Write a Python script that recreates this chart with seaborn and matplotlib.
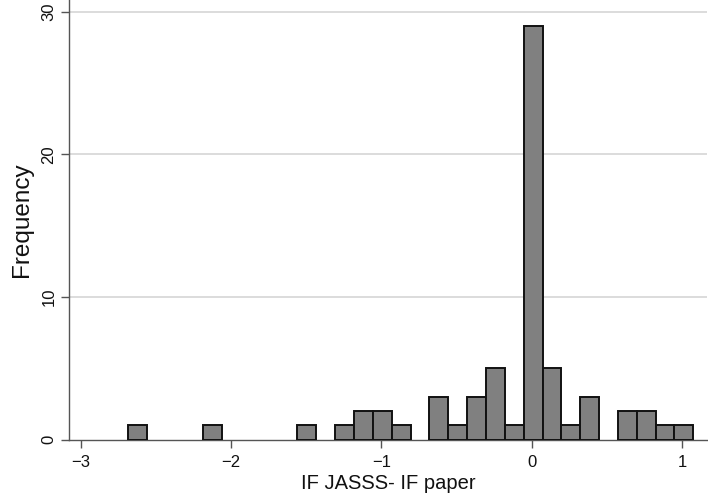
import numpy as np
import pandas as pd
import matplotlib
matplotlib.use("Agg")
import matplotlib.pyplot as plt
import seaborn as sns

# Histogram data (30 bins)
bin_start = -2.689
bin_width = 0.1255
counts = [1, 0, 0, 0, 1, 0, 0, 0, 0, 1,
          0, 1, 2, 2, 1, 0, 3, 1, 3, 5,
          1, 29, 5, 1, 3, 0, 2, 2, 1, 1]
x_ticks = [-3, -2, -1, 0, 1]
y_ticks = [0, 10, 20, 30]
x_label = "IF JASSS- IF paper"
y_label = "Frequency"

n = len(counts)
edges = bin_start + bin_width * np.arange(n + 1)
centers = (edges[:-1] + edges[1:]) / 2
df = pd.DataFrame({"value": centers, "count": counts})

sns.set_theme(style="white")
plt.rcParams["font.family"] = ["Liberation Sans", "DejaVu Sans"]
plt.rcParams["axes.unicode_minus"] = True

fig = plt.figure(figsize=(7.08, 5.03), dpi=100)
ax = fig.add_axes([69 / 708, 1 - 439.5 / 503, (707 - 69) / 708, 439.5 / 503])

sns.histplot(data=df, x="value", weights="count", bins=edges.tolist(), ax=ax,
             color="#808080", edgecolor="#111111", linewidth=1.4, alpha=1.0,
             zorder=3)
# hide empty bins (Stata draws nothing there)
for p in ax.patches:
    if p.get_height() == 0:
        p.set_visible(False)

ax.set_xlim(-3.08, 1.167)
ax.set_ylim(0, 30.82)
ax.set_xticks(x_ticks)
ax.set_yticks(y_ticks)
for lab in ax.get_yticklabels():
    lab.set_rotation(90)
    lab.set_va("center")

for y in y_ticks[1:]:
    ax.axhline(y, color="#dcdcdc", linewidth=1.4, zorder=1)

ax.set_xlabel(x_label, fontsize=14.5, labelpad=3)
ax.set_ylabel(y_label, fontsize=17.5, labelpad=6)

for side in ["top", "right"]:
    ax.spines[side].set_visible(False)
for side in ["left", "bottom"]:
    ax.spines[side].set_color("#555555")
    ax.spines[side].set_linewidth(1.0)

ax.tick_params(axis="both", which="major", direction="out", length=6, width=1,
               color="#555555", bottom=True, left=True, labelsize=12,
               labelcolor="#111111")
ax.tick_params(axis="x", pad=5)
ax.tick_params(axis="y", pad=3)
ax.xaxis.label.set_color("#111111")
ax.yaxis.label.set_color("#111111")

fig.savefig("out.png", dpi=100)
